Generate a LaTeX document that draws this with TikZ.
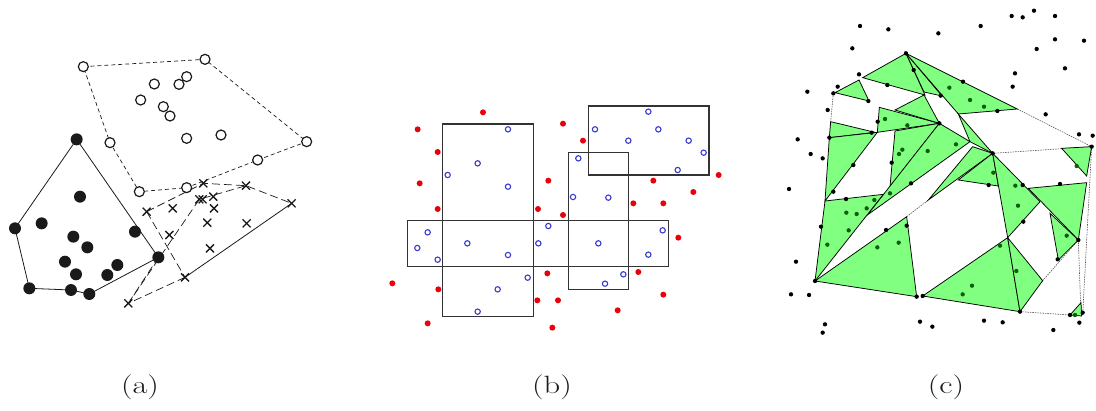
\documentclass[tikz,border=0pt]{standalone}
\usepackage{tikz}
\usetikzlibrary{calc}
\definecolor{ink}{HTML}{1A1A1A}
\definecolor{meshgreen}{HTML}{80FF80}
\definecolor{dotgreen}{HTML}{0B5E0B}
\definecolor{ptblue}{HTML}{3A3ACF}
\definecolor{ptred}{HTML}{E8000B}
\definecolor{boxgray}{HTML}{333333}
\definecolor{hullgray}{HTML}{555555}
\tikzset{
  opendot/.style={draw=ink, line width=1.2pt, fill=white},
  fulldot/.style={fill=ink},
  crossmark/.style={draw=ink, line width=1.3pt},
  solidhull/.style={draw=ink, line width=0.8pt},
  circhull/.style={draw=ink, line width=0.7pt, dash pattern=on 4pt off 3pt},
  crosshull/.style={draw=ink, line width=0.7pt, dash pattern=on 8pt off 4pt},
  region/.style={draw=boxgray, line width=1.2pt},
  bluept/.style={draw=ptblue, line width=1.1pt, fill=white},
  redpt/.style={fill=ptred},
  tri/.style={draw=black, line width=0.75pt, fill=meshgreen},
  hulldash/.style={draw=hullgray, line width=0.6pt, dash pattern=on 1.5pt off 1pt},
  blackpt/.style={fill=black},
  greenpt/.style={fill=dotgreen},
  caption/.style={font=\fontsize{25}{30}\selectfont, text=ink, xscale=1.3, transform shape}
}
\begin{document}
\begin{tikzpicture}[x=1pt,y=-1pt]
\useasboundingbox (0,0) rectangle (1096,410);

% (a) three clusters and their hulls
\begin{scope}[shift={(0,40)},scale=1/3]
\draw[circhull] (250,80) -- (615,58) -- (920,305) -- (773,360) -- (560,443) -- (418,455) -- (330,308) -- cycle;
\draw[solidhull] (230,298) -- (475,652) -- (268,762) -- (213,750) -- (88,745) -- (45,565) -- cycle;
\draw[crosshull] (440,515) -- (610,430) -- (738,437) -- (875,490);
\draw[solidhull] (875,490) -- (555,712);
\draw[crosshull] (555,712) -- (385,790) -- (598,478) -- (738,437);
\draw[crosshull] (440,515) -- (555,712);
\draw[crosshull] (385,790) -- (475,652);
\foreach \x/\y in {250/80,615/58,463/132,537/133,560/110,422/180,490/200,510/228,560/295,663/285,330/308,920/305,773/360,418/455,560/443}
  \draw[opendot] (\x,\y) circle (15);
\foreach \x/\y in {230/298,240/470,45/565,125/550,220/590,262/622,405/575,475/652,195/665,228/703,322/705,352/675,88/745,213/750,268/762}
  \fill[fulldot] (\x,\y) circle (18);
\foreach \x/\y in {610/430,738/437,875/490,440/515,518/505,598/478,608/478,640/470,642/505,622/548,740/550,508/585,630/625,555/712,385/790}
  \draw[crossmark] (\x-12,\y-12) -- (\x+12,\y+12) (\x-12,\y+12) -- (\x+12,\y-12);
\end{scope}

% (b) boxes over two point sets
\begin{scope}[shift={(380,90)},scale=1/3]
\draw[region] (188,102) rectangle (460,680);
\draw[region] (82,392) rectangle (866,530);
\draw[region] (565,187) rectangle (745,598);
\draw[region] (625,48) rectangle (987,255);
\foreach \x/\y in {384/118,293/220,203/255,384/290,143/427,112/474,173/509,262/460,384/495,475/460,505/408,443/563,353/598,293/665,645/118,745/152,805/65,835/118,926/152,971/188,893/240,595/205,579/321,685/323,655/460,848/421,805/494,730/553,675/581}
  \draw[bluept] (\x,\y) circle (8);
\foreach \x/\y in {309/67,113/118,173/186,119/280,173/357,549/101,609/152,505/272,474/357,549/375,820/272,940/306,1016/255,760/340,850/340,895/443,37/580,175/598,502/550,472/631,534/631,775/546,850/614,713/661,143/700,517/713}
  \fill[redpt] (\x,\y) circle (9);
\end{scope}

% (c) triangle mesh
\begin{scope}[shift={(780,0)},scale=1/3]
\draw[hulldash] (160,280) -- (152,365);
\draw[hulldash] (712,327) -- (935,440);
\draw[hulldash] (638,460) -- (935,440);
\draw[hulldash] (935,440) -- (908,945);
\draw[hulldash] (895,720) -- (903,945);
\draw[hulldash] (895,720) -- (788,842);
\draw[hulldash] (720,935) -- (870,945);
\draw[hulldash] (380,650) -- (445,600);
\foreach \p in {
  {(165,278) -- (237,240) -- (267,303)},
  {(248,233) -- (378,160) -- (435,285)},
  {(378,160) -- (432,276) -- (486,288)},
  {(378,160) -- (712,327) -- (535,342)},
  {(298,322) -- (478,370) -- (292,397)},
  {(345,330) -- (432,285) -- (478,370)},
  {(535,342) -- (570,425) -- (638,460)},
  {(345,393) -- (478,370) -- (330,560)},
  {(262,645) -- (478,370) -- (570,425)},
  {(445,600) -- (578,440) -- (638,460)},
  {(535,540) -- (638,460) -- (655,558)},
  {(638,460) -- (780,605) -- (683,713)},
  {(745,565) -- (920,548) -- (895,720)},
  {(845,445) -- (935,440) -- (920,528)},
  {(810,640) -- (895,720) -- (835,780)},
  {(428,888) -- (683,713) -- (720,935)},
  {(683,713) -- (788,842) -- (720,935)},
  {(152,365) -- (285,397) -- (148,413)},
  {(148,413) -- (292,397) -- (135,603)},
  {(135,603) -- (310,583) -- (105,843)},
  {(105,843) -- (380,650) -- (410,890)},
  {(870,945) -- (903,908) -- (905,948)}}
  \draw[tri] \p -- cycle;
\foreach \x/\y in {240/78,325/88,475/100,602/78,695/48,728/52,762/32,825/48,825/118,912/122,770/147,855/205,705/220,698/260,797/343,897/403,938/407,217/145,237/223,173/260,82/275,143/330,53/418,92/462,128/475,27/567,48/785,33/883,87/885,135/973,128/998,420/965,457/980,612/962,668/967,820/990,898/968,908/938,322/255,265/303,293/365,275/398,148/413,220/495,160/575,198/597,123/680,318/690,380/677,335/488,393/550,626/555,728/555,840/552,730/665,833/778,410/890,428/888,549/245,482/287,401/210,652/333,378/160,160/280,105/843,935/440,720/935,895/720,478/370,638/460,870/945}
  \fill[blackpt] (\x,\y) circle (6.5);
\foreach \x/\y in {315/357,382/376,367/449,357/462,443/453,528/433,508/263,570/300,612/320,199/638,230/642,206/691,142/734,292/742,356/728,260/625,283/600,330/580,640/518,706/557,714/617,660/737,709/813,576/857,548/883,860/707,890/498,885/945}
  \fill[greenpt] (\x,\y) circle (6.5);
\end{scope}

\node[caption] (capa) at (140,387) {(a)};
\node[caption] (capb) at (552,387) {(b)};
\node[caption] (capc) at (946,387) {(c)};
\end{tikzpicture}
\end{document}
